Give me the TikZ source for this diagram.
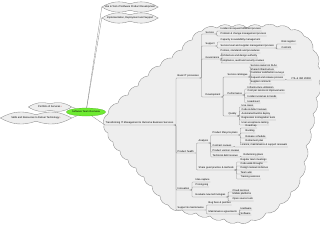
\documentclass[tikz,border=0pt]{standalone}
\usepackage{fontspec}
\setmainfont{Liberation Sans}
\usetikzlibrary{shapes.geometric,backgrounds}
\definecolor{cloudgray}{RGB}{238,238,238}
\definecolor{edgegray}{RGB}{140,140,140}
\definecolor{rootgreen}{RGB}{110,235,50}
\definecolor{iconred}{RGB}{220,40,40}

\begin{document}
\begin{tikzpicture}[x=1pt,y=-1pt,
    topic/.style={anchor=south west,inner xsep=0.5pt,inner ysep=0.4pt,font=\fontsize{2.5}{3}\selectfont},
    bubble/.style={inner xsep=2pt,inner ysep=0pt,minimum height=6pt,font=\fontsize{2.5}{3}\selectfont},
    puff/.style={draw=edgegray,fill=cloudgray,line width=0.35pt},
    tree/.style={draw=edgegray,line width=0.3pt,rounded corners=0.8pt,
      to path={(\tikztostart.south east) -- ++(2pt,0) |- (\tikztotarget.south west) -- (\tikztotarget.south east)}},
    link/.style={draw=edgegray,line width=0.3pt}
  ]
    \useasboundingbox (0,0) rectangle (320,225);

    % centre and the four outside bubbles
    \node[ellipse,fill=rootgreen,draw=rootgreen!70!black,line width=0.2pt,minimum width=29pt,minimum height=8pt,inner sep=0pt,font=\fontsize{2.5}{3}\selectfont] (central) at (86,112) {Software Team Overview};
    \node[bubble,minimum width=56pt] (c1) at (130,7) {Use \& Test of Software Product Development};
    \node[bubble,minimum width=56pt] (c2) at (130,18) {Implementation, Deployment and Support};
    \node[bubble,minimum width=43pt] (l1) at (50,107) {Portfolio of Services\,{\color{iconred}\textbullet}};
    \node[bubble,minimum width=71pt] (l2) at (36,118) {Skills and Resources to Deliver Technology\,{\color{iconred}\textbullet}};

    % main branch
    \node[topic] (root) at (105,125) {Transforming IT Management to Outcome Business Services};
    \node[topic] (basic) at (177,78) {Basic IT processes};
    \node[topic] (health) at (177,153) {Product health};
    \node[topic] (innov) at (177,190) {Innovation};
    \node[topic] (supp) at (177,210) {Support \& maintenance};

    % basic IT processes
    \node[topic] (svc) at (205,34) {Service};
    \node[topic] (ops) at (205,46) {Support};
    \node[topic] (gov) at (205,59) {Governance};
    \node[topic] (impl) at (205,97) {Development};
    \node[topic] (svc1) at (220,31) {Incident \& request fulfilment process};
    \node[topic] (svc2) at (220,36) {Problem \& change management process};
    \node[topic] (ops1) at (220,42) {Capacity \& availability management};
    \node[topic] (slm) at (220,48) {Service level and supplier management process};
    \node[topic] (risk) at (281,44) {Risk register};
    \node[topic] (ctrl) at (281,49) {Controls};
    \node[topic] (gov1) at (220,53) {Policies, standards and procedures};
    \node[topic] (gov2) at (220,58) {Architecture and design authority};
    \node[topic] (gov3) at (220,63) {Compliance, audit and security reviews};

    \node[topic] (cat) at (227,77) {Service catalogue};
    \node[topic] (cat1) at (250,67) {Service owners \& SLAs};
    \node[topic] (cat2) at (250,71) {Shared infrastructure};
    \node[topic] (cat3) at (250,75) {Customer satisfaction surveys};
    \node[topic] (cat4) at (250,80) {Request and release process};
    \node[topic] (itil) at (291,80) {ITIL \& ISO 20000};
    \node[topic] (cat5) at (250,84) {Supplier contracts};
    \node[topic] (perf) at (227,95) {Performance};
    \node[topic] (perf1) at (247,89) {Infrastructure utilisation};
    \node[topic] (perf2) at (247,93) {Cost per service \& improvements};
    \node[topic] (perf3) at (247,98) {Incident volumes \& trends};
    \node[topic] (perf4) at (247,103) {Headcount};
    \node[topic] (qual) at (228,116) {Quality};
    \node[topic] (qual1) at (241,107) {Use cases};
    \node[topic] (qual2) at (241,111) {Code \& defect reviews};
    \node[topic] (qual3) at (241,116) {Automated build \& deploy};
    \node[topic] (qual4) at (241,120) {Regression \& integration tests};
    \node[topic] (qual5) at (241,125) {User acceptance testing};

    % product health
    \node[topic] (anal) at (198,143) {Analysis};
    \node[topic] (life) at (212,135) {Product lifecycle plans};
    \node[topic] (life1) at (245,128) {Roadmap};
    \node[topic] (life2) at (245,133) {Backlog};
    \node[topic] (life3) at (245,138) {Release schedule};
    \node[topic] (life4) at (245,143) {Retirement plan};
    \node[topic] (lic) at (212,147) {Contract reviews};
    \node[topic] (lic1) at (240,147) {Licence, maintenance \& support renewals};
    \node[topic] (ver) at (212,152) {Product version reviews};
    \node[topic] (debt) at (212,157) {Technical debt reviews};
    \node[topic] (debt1) at (243,157) {Refactoring plans};
    \node[topic] (share) at (198,170) {Share good practice \& methods};
    \node[topic] (share1) at (240,162) {Regular team meetings};
    \node[topic] (share2) at (240,166) {Code walk-throughs};
    \node[topic] (share3) at (240,170) {Design reviews \& demos};
    \node[topic] (share4) at (240,174) {Team wiki};
    \node[topic] (share5) at (240,179) {Training sessions};

    % innovation
    \node[topic] (idea) at (195,182) {Idea capture};
    \node[topic] (proto) at (195,187) {Prototyping};
    \node[topic] (eval) at (195,197) {Evaluate new technologies};
    \node[topic] (eval1) at (232,192) {Cloud services};
    \node[topic] (eval2) at (232,196) {Mobile platforms};
    \node[topic] (eval3) at (232,201) {Open source tools};

    % support and maintenance
    \node[topic] (bugs) at (208,205) {Bug fixes \& patches};
    \node[topic] (maint) at (208,214) {Maintenance agreements};
    \node[topic] (hw) at (240,210) {Hardware};
    \node[topic] (sw) at (240,215) {Software};

    % clouds behind the text
    \begin{scope}[on background layer]
      \draw[puff,bend left=40] (104,125) to (108,114) to (118,103) to (128,95) to (138,86)
        to (148,76) to (160,66) to (172,58) to (182,50) to (192,40) to (202,31)
        to (217,28) to (232,27) to (247,28) to (262,27) to (277,27) to (291,30)
        to (304,36) to (313,50) to (318,66) to (319,82) to (316,98) to (313,114)
        to (310,130) to (306,146) to (304,162) to (300,178) to (291,192) to (280,204)
        to (266,213) to (251,220) to (238,222) to (224,219) to (210,216) to (196,213)
        to (182,210) to (168,205) to (160,196) to (152,186) to (144,177) to (136,168)
        to (128,160) to (120,151) to (113,142) to (108,133) to (104,125);
      \foreach \c in {c1,c2,l1,l2}
        \draw[puff,bend left=24] (\c.west) to (\c.north) to (\c.east) to (\c.south) to (\c.west);
    \end{scope}

    % connectors
    \draw[link] (central) -- (c1.west);
    \draw[link] (central) -- (c2.west);
    \draw[link] (central) -- (l1.east);
    \draw[link] (central) -- (l2.east);
    \draw[link] (central) -- (root.south west) -- (root.south east);
    \path (root) edge[tree] (basic) edge[tree] (health) edge[tree] (innov) edge[tree] (supp);
    \path (basic) edge[tree] (svc) edge[tree] (ops) edge[tree] (gov) edge[tree] (impl);
    \path (svc) edge[tree] (svc1) edge[tree] (svc2);
    \path (ops) edge[tree] (ops1) edge[tree] (slm);
    \path (slm) edge[tree] (risk) edge[tree] (ctrl);
    \path (gov) edge[tree] (gov1) edge[tree] (gov2) edge[tree] (gov3);
    \path (impl) edge[tree] (cat) edge[tree] (perf) edge[tree] (qual);
    \path (cat) edge[tree] (cat1) edge[tree] (cat2) edge[tree] (cat3) edge[tree] (cat4) edge[tree] (cat5);
    \path (cat4) edge[tree] (itil);
    \path (perf) edge[tree] (perf1) edge[tree] (perf2) edge[tree] (perf3) edge[tree] (perf4);
    \path (qual) edge[tree] (qual1) edge[tree] (qual2) edge[tree] (qual3) edge[tree] (qual4) edge[tree] (qual5);
    \path (health) edge[tree] (anal) edge[tree] (share);
    \path (anal) edge[tree] (life) edge[tree] (lic) edge[tree] (ver) edge[tree] (debt);
    \path (life) edge[tree] (life1) edge[tree] (life2) edge[tree] (life3) edge[tree] (life4);
    \path (lic) edge[tree] (lic1);
    \path (debt) edge[tree] (debt1);
    \path (share) edge[tree] (share1) edge[tree] (share2) edge[tree] (share3) edge[tree] (share4) edge[tree] (share5);
    \path (innov) edge[tree] (idea) edge[tree] (proto) edge[tree] (eval);
    \path (eval) edge[tree] (eval1) edge[tree] (eval2) edge[tree] (eval3);
    \path (supp) edge[tree] (bugs) edge[tree] (maint);
    \path (maint) edge[tree] (hw) edge[tree] (sw);
  \end{tikzpicture}
\end{document}
